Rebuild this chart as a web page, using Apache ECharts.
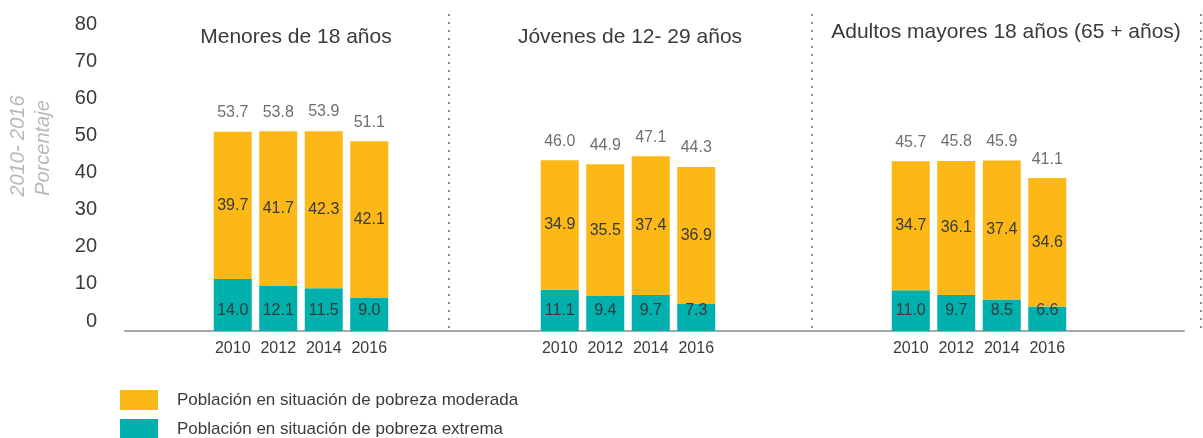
<!DOCTYPE html>
<html>
<head>
<meta charset="utf-8">
<script src="https://cdn.jsdelivr.net/npm/echarts@6/dist/echarts.min.js"></script>
<style>
html,body{margin:0;padding:0;background:#fff;}
#chart{width:1203px;height:438px;}
</style>
</head>
<body>
<div id="chart"></div>
<script>
const years = ['2010', '2012', '2014', '2016'];
const groups = ['Menores de 18 años', 'Jóvenes de 12- 29 años', 'Adultos mayores 18 años (65 + años)'];
const extrema = [[14.0, 12.1, 11.5, 9.0], [11.1, 9.4, 9.7, 7.3], [11.0, 9.7, 8.5, 6.6]];
const moderada = [[39.7, 41.7, 42.3, 42.1], [34.9, 35.5, 37.4, 36.9], [34.7, 36.1, 37.4, 34.6]];
const totales = [[53.7, 53.8, 53.9, 51.1], [46.0, 44.9, 47.1, 44.3], [45.7, 45.8, 45.9, 41.1]];
const yTicks = [0, 10, 20, 30, 40, 50, 60, 70, 80];
const seriesNames = ['Población en situación de pobreza moderada', 'Población en situación de pobreza extrema'];

const FONT = '"Liberation Sans", Arial, Helvetica, sans-serif';
const ORANGE = '#FBB817';
const TEAL = '#00B0AD';
const TEXT = '#3a3a3a';

const gridLefts = [210, 537, 888];
const titleCenters = [296, 630, 1006];
const titleTops = [27, 27, 22];

const grids = [], xAxes = [], yAxes = [], series = [], titles = [];
groups.forEach((g, i) => {
  grids.push({left: gridLefts[i], top: 34, width: 182, height: 297});
  xAxes.push({
    type: 'category', gridIndex: i, data: years,
    axisLine: {show: false}, axisTick: {show: false},
    axisLabel: {interval: 0, color: TEXT, fontSize: 16, fontFamily: FONT, margin: 10}
  });
  yAxes.push({
    type: 'value', gridIndex: i, min: yTicks[0], max: yTicks[yTicks.length - 1], interval: 10,
    splitLine: {show: false}, axisLine: {show: false}, axisTick: {show: false},
    axisLabel: {show: i === 0, color: TEXT, fontSize: 20, fontFamily: FONT, margin: 113, verticalAlign: 'bottom'}
  });
  titles.push({
    text: g, left: titleCenters[i], top: titleTops[i], textAlign: 'center', padding: 0,
    textStyle: {color: TEXT, fontSize: 21, fontWeight: 'normal', fontFamily: FONT}
  });
  series.push({
    name: seriesNames[1], type: 'bar', xAxisIndex: i, yAxisIndex: i, stack: 's' + i,
    data: extrema[i], barWidth: 38, itemStyle: {color: TEAL},
    label: {show: true, position: 'insideBottom', distance: 12, color: TEXT, fontSize: 16, fontFamily: FONT,
      formatter: p => p.value.toFixed(1)}
  });
  series.push({
    name: seriesNames[0], type: 'bar', xAxisIndex: i, yAxisIndex: i, stack: 's' + i,
    data: moderada[i], barWidth: 38, itemStyle: {color: ORANGE},
    label: {show: true, position: 'inside', color: TEXT, fontSize: 16, fontFamily: FONT,
      formatter: p => p.value.toFixed(1)}
  });
  series.push({
    name: 'Total', type: 'scatter', xAxisIndex: i, yAxisIndex: i,
    data: totales[i], symbolSize: 2, itemStyle: {color: 'rgba(0,0,0,0)'}, silent: true,
    label: {show: true, position: 'top', distance: 10, color: '#4a4a4a', fontSize: 16, fontFamily: FONT,
      formatter: p => p.value.toFixed(1)}
  });
});

// full-width baseline axis
grids.push({left: 125, top: 34, width: 1059, height: 297});
xAxes.push({type: 'category', gridIndex: 3, data: [''], axisLine: {lineStyle: {color: '#a8a8a8', width: 2}},
  axisTick: {show: false}, axisLabel: {show: false}, z: 0});
yAxes.push({type: 'value', gridIndex: 3, show: false, min: 0, max: 80});

const sepX = [449, 812, 1201];
const graphics = sepX.map(x => ({
  type: 'line', shape: {x1: x, y1: 14, x2: x, y2: 333}, silent: true,
  style: {stroke: '#8c8c8c', lineWidth: 2, lineDash: [2, 6]}
}));
graphics.push({type: 'text', x: 18, y: 146, rotation: Math.PI / 2,
  style: {text: '2010- 2016', align: 'center', verticalAlign: 'middle', fontSize: 20, fontStyle: 'italic',
    fontFamily: FONT, fill: '#b8b8b8'}});
graphics.push({type: 'text', x: 43, y: 148, rotation: Math.PI / 2,
  style: {text: 'Porcentaje', align: 'center', verticalAlign: 'middle', fontSize: 20, fontStyle: 'italic',
    fontFamily: FONT, fill: '#b8b8b8'}});

const legendBase = {
  orient: 'vertical', left: 120, padding: 0,
  itemWidth: 38, itemHeight: 20, icon: 'rect',
  textStyle: {color: TEXT, fontSize: 17, fontFamily: FONT, padding: [0, 0, 0, 14]}
};

const chart = echarts.init(document.getElementById('chart'), null, {renderer: 'canvas'});
chart.setOption({
  animation: false,
  title: titles,
  grid: grids,
  xAxis: xAxes,
  yAxis: yAxes,
  legend: [
    Object.assign({}, legendBase, {data: [seriesNames[0]], top: 390}),
    Object.assign({}, legendBase, {data: [seriesNames[1]], top: 419})
  ],
  graphic: graphics,
  series: series
});
</script>
</body>
</html>
